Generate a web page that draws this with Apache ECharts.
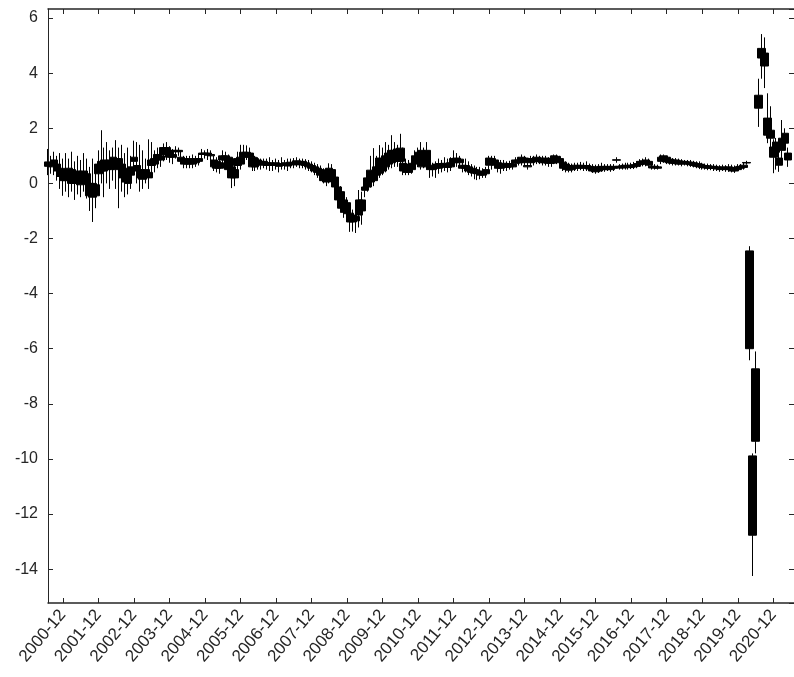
<!DOCTYPE html>
<html>
<head>
<meta charset="utf-8">
<script src="https://cdn.jsdelivr.net/npm/echarts@6/dist/echarts.min.js"></script>
<style>html,body{margin:0;padding:0;background:#fff}#c{width:794px;height:677px}</style>
</head>
<body>
<div id="c"></div>
<script>
// Rows: [boxTop, boxBottom, wickHigh, wickLow], one per month starting 2000-07
const seg2000_2005 = [
[0.78,0.62,1.25,0.3],[0.75,0.6,1.0,0.35],[0.85,0.7,1.15,0.3],[0.7,0.45,1.0,0.1],[0.55,0.25,1.1,-0.2],
[0.5,0.1,0.9,-0.45],[0.45,0.1,1.1,-0.3],[0.55,0.15,0.9,-0.5],[0.5,0.0,1.15,-0.3],[0.4,0.0,0.8,-0.6],
[0.45,0.05,1.0,-0.4],[0.3,-0.05,0.85,-0.5],[0.45,0.1,1.1,-0.3],[0.35,0.0,0.9,-0.55],[0.0,-0.45,0.6,-1.0],
[0.0,-0.5,0.9,-1.4],[-0.05,-0.45,0.5,-0.9],[0.7,0.35,1.2,-0.1],[0.8,0.45,1.93,0.0],[0.85,0.45,1.3,-0.5],
[0.8,0.5,1.5,0.0],[0.85,0.5,1.2,-0.2],[0.95,0.55,1.3,0.1],[0.9,0.5,1.57,-0.2],[0.9,0.55,1.3,-0.9],
[0.7,0.2,1.4,-0.3],[0.55,0.05,1.1,-0.5],[0.45,0.0,1.3,-0.4],[0.6,0.3,1.0,-0.2],[0.95,0.8,1.55,0.4],
[0.65,0.45,1.5,0.0],[0.5,0.2,1.4,-0.3],[0.45,0.15,1.2,-0.2],[0.5,0.25,0.9,0.0],[0.4,0.2,1.6,-0.2],
[0.85,0.65,1.5,0.3],[0.9,0.7,1.2,0.4],[1.05,0.85,1.3,0.55],[1.0,0.85,1.2,0.6],[1.3,1.05,1.45,0.8],
[1.3,1.1,1.5,0.85],[1.2,0.95,1.35,0.75],[1.05,0.95,1.25,0.7],[1.2,1.15,1.35,0.9],[1.2,1.15,1.3,1.0],
[0.95,0.8,1.2,0.7],[0.9,0.7,1.0,0.55],[0.85,0.7,1.0,0.55],[0.9,0.7,1.0,0.55],[0.85,0.7,1.05,0.55],
[0.9,0.75,1.0,0.6],[0.9,0.8,1.1,0.65],[1.1,1.05,1.25,0.85],[1.1,1.05,1.2,0.9],[1.1,1.02,1.25,0.85],
[1.05,1.0,1.2,0.8],[0.85,0.6,1.0,0.45],[0.8,0.55,0.95,0.4],[0.75,0.55,0.9,0.35],[1.0,0.85,1.2,0.7]
];
const seg2005_2010 = [
[1.0,0.85,1.15,0.7],[0.95,0.5,1.05,0.3],[0.6,0.2,0.8,-0.17],[0.5,0.2,0.7,-0.1],[0.9,0.65,1.15,0.4],
[0.95,0.7,1.4,0.5],[1.13,0.95,1.4,0.8],[1.13,0.97,1.38,0.85],[1.1,0.95,1.3,0.8],[0.95,0.6,1.05,0.45],
[0.9,0.6,1.0,0.45],[0.85,0.7,0.95,0.5],[0.8,0.66,0.9,0.5],[0.8,0.7,0.9,0.55],[0.75,0.65,0.9,0.5],
[0.75,0.65,0.95,0.45],[0.72,0.65,0.85,0.45],[0.75,0.68,0.9,0.5],[0.7,0.62,0.85,0.4],[0.72,0.65,0.95,0.5],
[0.75,0.68,0.85,0.5],[0.7,0.63,0.9,0.45],[0.77,0.7,0.9,0.55],[0.75,0.67,0.92,0.55],[0.82,0.7,0.95,0.6],
[0.8,0.68,0.9,0.55],[0.8,0.67,0.9,0.55],[0.75,0.65,0.88,0.5],[0.7,0.6,0.85,0.45],[0.65,0.55,0.8,0.4],
[0.6,0.45,0.75,0.3],[0.55,0.4,0.7,0.2],[0.5,0.3,0.65,0.1],[0.37,0.1,0.55,0.0],[0.3,0.05,0.5,-0.1],
[0.55,0.15,0.73,0.0],[0.5,0.12,0.7,-0.05],[0.23,-0.13,0.45,-0.25],[-0.13,-0.6,0.0,-0.75],[-0.3,-0.9,-0.1,-1.05],
[-0.6,-1.05,-0.4,-1.25],[-0.7,-1.1,-0.5,-1.4],[-1.08,-1.4,-0.85,-1.76],[-1.15,-1.4,-0.95,-1.75],[-1.2,-1.36,-1.0,-1.8],
[-0.6,-1.15,-0.24,-1.6],[-0.6,-1.0,-0.3,-1.5],[-0.13,-0.25,0.05,-0.5],[0.2,-0.13,0.4,-0.3],[0.48,0.05,1.0,-0.15],
[0.45,0.1,1.28,-0.1],[0.6,0.3,1.0,0.15],[0.92,0.37,1.39,0.2],[0.85,0.45,1.3,0.3],[1.0,0.6,1.5,0.4],
[1.1,0.7,1.4,0.5],[1.2,0.75,1.75,0.55],[1.2,0.8,1.5,0.6],[1.25,0.8,1.4,0.6],[1.28,0.8,1.8,0.6]
];
const seg2010_2015 = [
[0.73,0.45,1.3,0.3],[0.7,0.4,0.9,0.3],[0.65,0.4,0.85,0.3],[0.73,0.5,1.0,0.35],[1.0,0.7,1.2,0.55],
[1.13,0.75,1.3,0.6],[1.2,0.6,1.5,0.5],[1.15,0.65,1.3,0.55],[1.2,0.6,1.5,0.5],[0.66,0.5,0.8,0.2],
[0.62,0.5,0.75,0.25],[0.7,0.55,0.8,0.2],[0.72,0.55,0.9,0.35],[0.7,0.6,0.85,0.4],[0.73,0.6,0.95,0.45],
[0.7,0.58,0.9,0.4],[0.75,0.6,0.95,0.45],[0.9,0.75,1.2,0.6],[0.92,0.78,1.1,0.6],[0.88,0.75,1.0,0.6],
[0.66,0.55,0.8,0.4],[0.65,0.55,0.9,0.4],[0.6,0.45,0.8,0.3],[0.55,0.4,0.7,0.25],[0.5,0.37,0.65,0.15],
[0.45,0.35,0.6,0.12],[0.45,0.3,0.6,0.15],[0.42,0.3,0.55,0.2],[0.5,0.35,0.6,0.2],[0.92,0.66,1.0,0.5],
[0.9,0.7,1.0,0.5],[0.85,0.66,1.0,0.55],[0.75,0.55,0.85,0.4],[0.7,0.55,0.85,0.35],[0.73,0.6,0.85,0.45],
[0.7,0.58,0.8,0.45],[0.72,0.6,0.82,0.5],[0.7,0.6,0.8,0.5],[0.85,0.73,0.95,0.6],[0.85,0.75,0.95,0.65],
[0.95,0.75,1.05,0.65],[0.92,0.78,1.0,0.65],[0.65,0.6,0.75,0.5],[0.9,0.75,1.0,0.65],[0.9,0.78,1.0,0.65],
[0.95,0.8,1.05,0.7],[0.92,0.8,1.0,0.7],[0.9,0.75,1.0,0.65],[0.92,0.75,1.0,0.65],[0.85,0.73,0.95,0.6],
[0.88,0.73,1.0,0.6],[1.0,0.82,1.05,0.7],[0.98,0.8,1.05,0.7],[0.9,0.75,1.0,0.65],[0.77,0.55,0.85,0.45],
[0.7,0.5,0.8,0.4],[0.65,0.48,0.75,0.4],[0.62,0.5,0.72,0.4],[0.66,0.55,0.75,0.45],[0.65,0.55,0.75,0.45]
];
const seg2015_2020 = [
[0.66,0.56,0.78,0.48],[0.64,0.55,0.75,0.45],[0.65,0.56,0.8,0.45],[0.62,0.52,0.72,0.45],[0.6,0.45,0.7,0.38],
[0.58,0.42,0.68,0.35],[0.6,0.45,0.7,0.38],[0.62,0.5,0.75,0.42],[0.6,0.5,0.7,0.42],[0.62,0.5,0.7,0.45],
[0.6,0.5,0.7,0.42],[0.62,0.55,0.7,0.45],[0.86,0.84,0.95,0.75],[0.62,0.56,0.7,0.5],[0.64,0.56,0.72,0.5],
[0.66,0.58,0.75,0.5],[0.65,0.57,0.75,0.5],[0.66,0.58,0.75,0.52],[0.68,0.6,0.78,0.52],[0.72,0.62,0.8,0.55],
[0.8,0.68,0.88,0.6],[0.82,0.7,0.9,0.62],[0.85,0.7,0.95,0.62],[0.8,0.66,0.9,0.6],[0.62,0.56,0.7,0.5],
[0.62,0.56,0.7,0.5],[0.6,0.55,0.68,0.5],[0.95,0.8,1.05,0.7],[1.0,0.85,1.05,0.75],[0.95,0.78,1.0,0.7],
[0.88,0.75,0.95,0.68],[0.85,0.73,0.92,0.65],[0.85,0.72,0.92,0.65],[0.82,0.7,0.9,0.65],[0.8,0.7,0.88,0.62],
[0.8,0.72,0.85,0.65],[0.78,0.7,0.85,0.62],[0.77,0.68,0.85,0.6],[0.75,0.65,0.82,0.58],[0.72,0.62,0.8,0.55],
[0.7,0.6,0.8,0.52],[0.66,0.58,0.75,0.5],[0.65,0.56,0.72,0.5],[0.64,0.55,0.72,0.48],[0.62,0.55,0.7,0.48],
[0.62,0.54,0.7,0.45],[0.6,0.52,0.68,0.45],[0.58,0.5,0.66,0.42],[0.6,0.52,0.68,0.45],[0.58,0.5,0.66,0.42],
[0.6,0.5,0.7,0.42],[0.58,0.45,0.68,0.4],[0.56,0.45,0.65,0.38],[0.6,0.5,0.7,0.45],[0.62,0.55,0.7,0.5],
[0.66,0.58,0.75,0.5],[0.76,0.74,0.82,0.68]
];
const seg2020_2021 = [
[-2.45,-6.0,-2.28,-6.42],[-9.89,-12.77,-9.8,-14.25],[-6.73,-9.36,-6.1,-9.8],[3.2,2.73,3.8,2.05],[4.9,4.55,5.42,3.8],
[4.73,4.26,5.3,3.46],[2.37,1.75,3.27,1.46],[1.93,1.64,2.8,1.2],[1.32,0.95,1.6,0.37],[1.5,1.13,1.65,0.5],
[0.92,0.66,1.2,0.42],[1.64,1.2,2.3,0.8],[1.82,1.46,2.0,1.2],[1.1,0.85,1.3,0.6]
];
const tickLabels = ['2000-12','2001-12','2002-12','2003-12','2004-12','2005-12','2006-12','2007-12','2008-12','2009-12','2010-12','2011-12','2012-12','2013-12','2014-12','2015-12','2016-12','2017-12','2018-12','2019-12','2020-12'];

const months = [];
for (let y = 2000, m = 7; y < 2021 || (y === 2021 && m <= 7); ) {
  months.push(y + '-' + String(m).padStart(2, '0'));
  m++; if (m > 12) { m = 1; y++; }
}
const rows = [].concat(seg2000_2005, seg2005_2010, seg2010_2015, seg2015_2020, seg2020_2021);
const data = months.map((mm, i) => {
  const r = rows[i];
  return r ? [r[0], r[1], r[3], r[2]] : '-';
});

const axisColor = '#262626';
const fontFam = 'Liberation Sans, Arial, Helvetica, sans-serif';
const isTick = (i, v) => tickLabels.indexOf(v) >= 0;
const chart = echarts.init(document.getElementById('c'), null, {renderer: 'canvas'});
chart.setOption({
  backgroundColor: '#fff',
  animation: false,
  grid: {left: 48, right: 0, top: 9, bottom: 74, containLabel: false},
  xAxis: [{
    type: 'category', data: months, boundaryGap: false, position: 'bottom',
    axisLine: {onZero: false, lineStyle: {color: axisColor, width: 1.5}},
    axisTick: {inside: true, length: 5, interval: isTick, lineStyle: {color: axisColor}},
    axisLabel: {interval: isTick, rotate: 50, fontSize: 17, color: axisColor, fontFamily: fontFam, margin: 9},
    splitLine: {show: false}
  }, {
    type: 'category', data: months, boundaryGap: false, position: 'top',
    axisLine: {onZero: false, lineStyle: {color: axisColor, width: 1.5}},
    axisTick: {inside: true, length: 5, interval: isTick, lineStyle: {color: axisColor}},
    axisLabel: {show: false}, splitLine: {show: false}
  }],
  yAxis: [{
    type: 'value', min: -15.23, max: 6.33, splitNumber: 10, position: 'left',
    axisLine: {show: true, onZero: false, lineStyle: {color: axisColor, width: 1}},
    axisTick: {show: true, inside: true, length: 5, lineStyle: {color: axisColor}},
    axisLabel: {fontSize: 16, color: axisColor, fontFamily: fontFam, margin: 10, showMinLabel: false, showMaxLabel: false},
    splitLine: {show: false}
  }, {
    type: 'value', min: -15.23, max: 6.33, splitNumber: 10, position: 'right',
    axisLine: {show: true, onZero: false, lineStyle: {color: axisColor, width: 1}},
    axisTick: {show: true, inside: true, length: 5, lineStyle: {color: axisColor}},
    axisLabel: {show: false}, splitLine: {show: false}
  }],
  series: [{
    type: 'candlestick',
    data: data,
    barWidth: 8,
    clip: true,
    itemStyle: {color: '#000', color0: '#000', borderColor: '#000', borderColor0: '#000', borderWidth: 1}
  }]
});
</script>
</body>
</html>
